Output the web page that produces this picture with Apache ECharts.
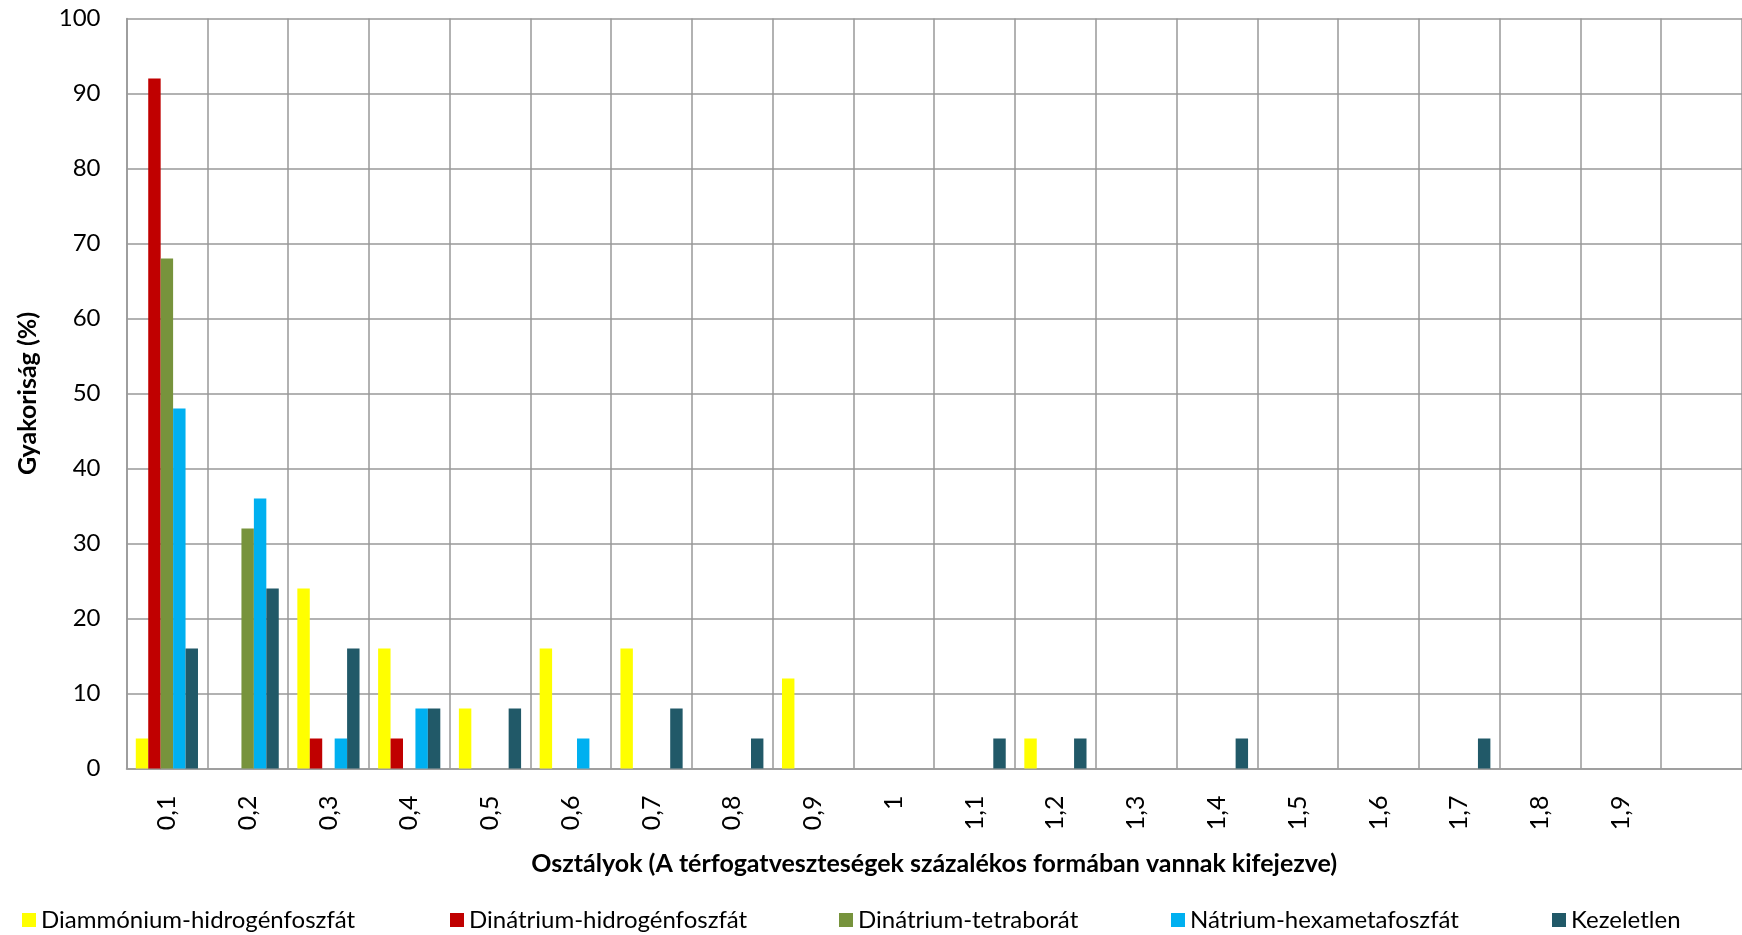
<!DOCTYPE html>
<html>
<head>
<meta charset="utf-8">
<script src="https://cdn.jsdelivr.net/npm/echarts@6/dist/echarts.min.js"></script>
<style>
html,body{margin:0;padding:0;background:#fff;}
#chart{width:1742px;height:935px;}
</style>
</head>
<body>
<div id="chart"></div>
<script>
var categories = ['0,1','0,2','0,3','0,4','0,5','0,6','0,7','0,8','0,9','1','1,1','1,2','1,3','1,4','1,5','1,6','1,7','1,8','1,9',''];
var seriesNames = ['Diammónium-hidrogénfoszfát','Dinátrium-hidrogénfoszfát','Dinátrium-tetraborát','Nátrium-hexametafoszfát','Kezeletlen'];
var diammonium = [4, 0, 24, 16, 8, 16, 16, 0, 12, 0, 0, 4, 0, 0, 0, 0, 0, 0, 0, 0];
var dinatriumHidrogen = [92, 0, 4, 4, 0, 0, 0, 0, 0, 0, 0, 0, 0, 0, 0, 0, 0, 0, 0, 0];
var dinatriumTetraborat = [68, 32, 0, 0, 0, 0, 0, 0, 0, 0, 0, 0, 0, 0, 0, 0, 0, 0, 0, 0];
var natriumHexameta = [48, 36, 4, 8, 0, 4, 0, 0, 0, 0, 0, 0, 0, 0, 0, 0, 0, 0, 0, 0];
var kezeletlen = [16, 24, 16, 8, 8, 0, 8, 4, 0, 0, 4, 4, 0, 4, 0, 0, 4, 0, 0, 0];
var yTicks = [0, 10, 20, 30, 40, 50, 60, 70, 80, 90, 100];
var xTitle = 'Osztályok (A térfogatveszteségek százalékos formában vannak kifejezve)';
var yTitle = 'Gyakoriság (%)';

var colors = ['#FFFF00', '#C00000', '#77933C', '#00B0F0', '#215968'];
var values = [diammonium, dinatriumHidrogen, dinatriumTetraborat, natriumHexameta, kezeletlen];
var legendLefts = [17, 445, 834, 1166, 1547];
var FONT = 'Lato';

var chart = echarts.init(document.getElementById('chart'), null, {renderer: 'canvas'});
var series = seriesNames.map(function (n, i) {
  return {
    name: n,
    type: 'bar',
    data: values[i],
    barGap: '0%',
    barCategoryGap: '23%',
    itemStyle: {color: colors[i]},
    emphasis: {disabled: true}
  };
});
var legends = seriesNames.map(function (n, i) {
  return {
    data: [n],
    left: legendLefts[i],
    top: 903,
    itemWidth: 14,
    itemHeight: 14,
    icon: 'rect',
    textStyle: {fontFamily: FONT, fontSize: 24, color: '#000'},
    selectedMode: false
  };
});
chart.setOption({
  animation: false,
  color: colors,
  textStyle: {fontFamily: FONT},
  grid: {left: 126.5, top: 18.5, right: -4, bottom: 166.5, containLabel: false},
  legend: legends,
  xAxis: {
    type: 'category',
    data: categories,
    boundaryGap: true,
    name: xTitle,
    nameLocation: 'middle',
    nameGap: 83,
    nameTextStyle: {fontFamily: FONT, fontSize: 25, fontWeight: 'bold', color: '#000'},
    axisLine: {show: true, lineStyle: {color: '#999', width: 1.5}},
    axisTick: {show: false},
    axisLabel: {rotate: 90, margin: 27, fontFamily: FONT, fontSize: 25, color: '#000', interval: 0},
    splitLine: {show: true, interval: 0, lineStyle: {color: '#999', width: 1.5}}
  },
  yAxis: {
    type: 'value',
    min: yTicks[0],
    max: yTicks[yTicks.length - 1],
    interval: yTicks[1] - yTicks[0],
    name: yTitle,
    nameLocation: 'middle',
    nameGap: 86,
    nameRotate: 90,
    nameTextStyle: {fontFamily: FONT, fontSize: 25, fontWeight: 'bold', color: '#000'},
    axisLine: {show: true, lineStyle: {color: '#999', width: 1.5}},
    axisTick: {show: false},
    axisLabel: {margin: 26, fontFamily: FONT, fontSize: 24, color: '#000'},
    splitLine: {show: true, lineStyle: {color: '#999', width: 1.5}}
  },
  series: series
});
</script>
</body>
</html>
